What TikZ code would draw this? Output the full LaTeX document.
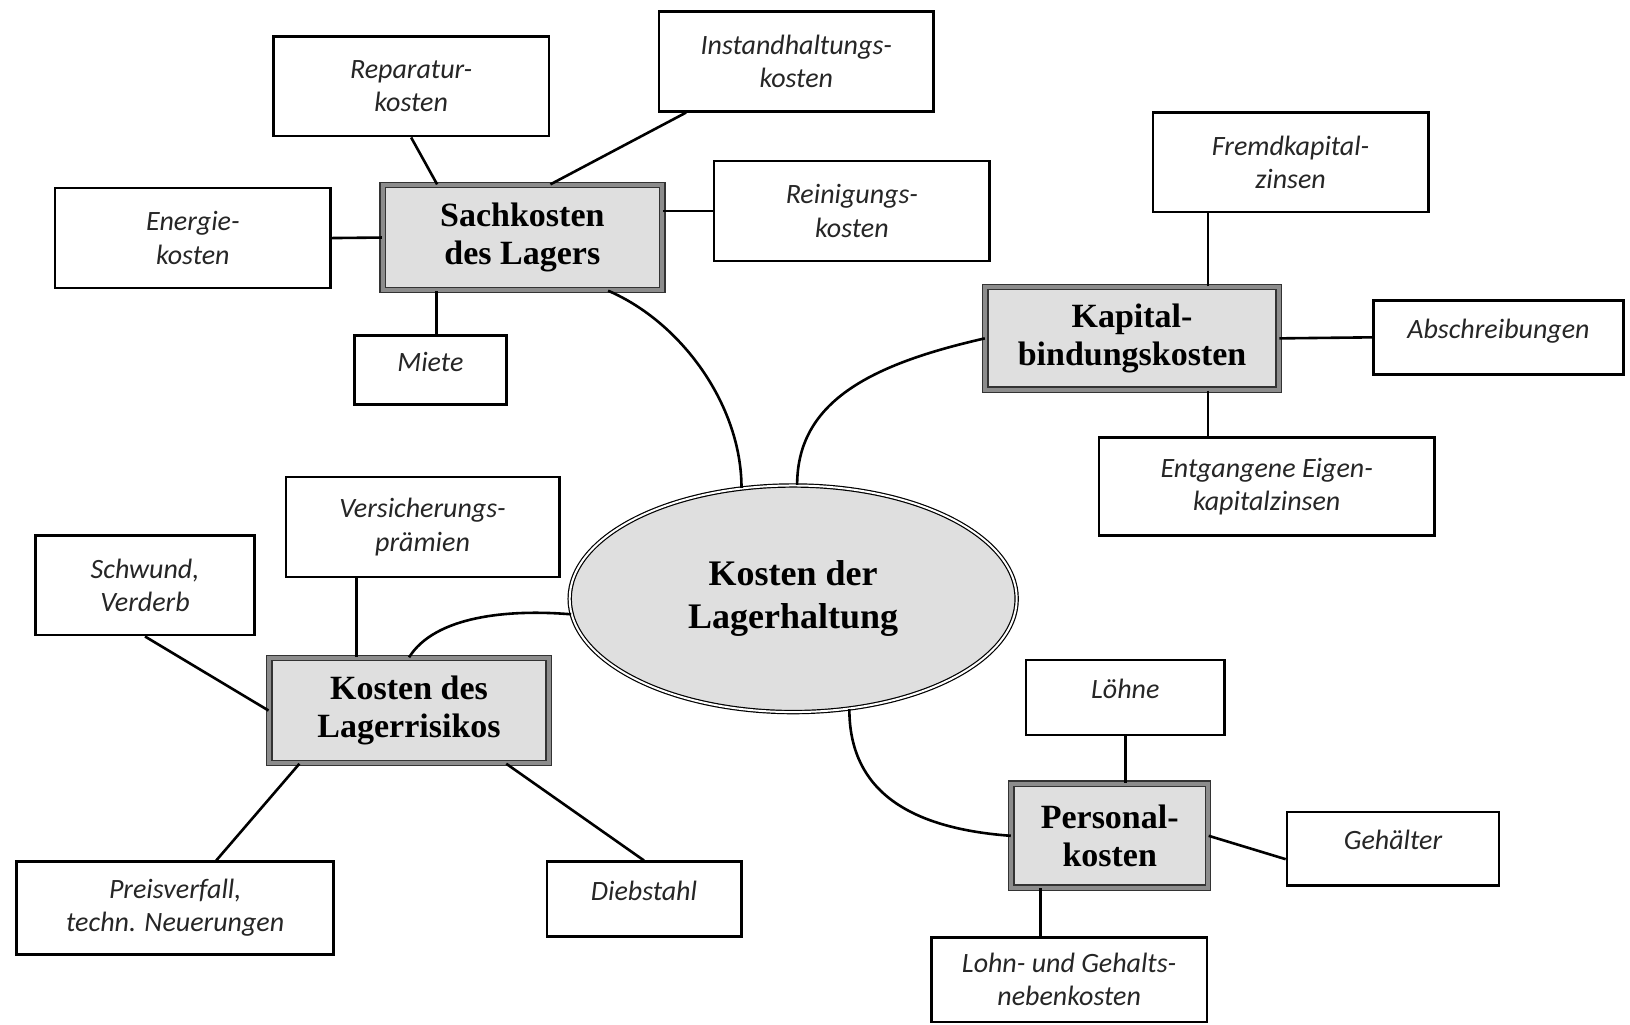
\documentclass[tikz,border=0pt]{standalone}
\usepackage{fontspec}
\setmainfont{Liberation Serif}
\setsansfont{Carlito}
\usetikzlibrary{shapes.geometric, calc}

\begin{document}
\begin{tikzpicture}[x=0.52pt,y=-0.52pt,
  gr/.style 2 args={minimum width=#1*0.52pt, minimum height=#2*0.52pt},
  blatt/.style={draw=black, line width=1.3pt, fill=white, align=center, inner sep=2pt,
    font=\sffamily\itshape\fontsize{14}{16.6}\selectfont, text=black!85},
  einzeilig/.style={text height=6pt, text depth=5pt},
  haupt/.style={draw=black!80, line width=0.7pt, double=black!45, double distance=2pt,
    fill=gray!25, align=center, inner sep=2pt, font=\bfseries\fontsize{17}{18.7}\selectfont},
  linie/.style={line width=1.3pt}]
\useasboundingbox (0,0) rectangle (1568,986);

% Mitte
\node[ellipse, draw=black, line width=0.6pt, double=white, double distance=1pt,
  fill=gray!25, gr={430}{218}, align=center,
  font=\bfseries\fontsize{18}{21.6}\selectfont] (kern) at (763,576) {Kosten der\\Lagerhaltung};

% Sachkosten
\node[haupt, gr={269}{101}] (sach) at (502.5,228.5) {Sachkosten\\des Lagers};
\node[blatt, gr={265}{96}] (rep) at (395.5,83) {Reparatur-\\kosten};
\node[blatt, gr={264}{96}] (inst) at (766,59) {Instandhaltungs-\\kosten};
\node[blatt, gr={265}{96}] (ener) at (185.5,229) {Energie-\\kosten};
\node[blatt, gr={265}{96}] (rein) at (819.5,203) {Reinigungs-\\kosten};
\node[blatt, einzeilig, gr={146}{66}] (miete) at (414,356) {Miete};

% Kapitalbindung
\node[haupt, gr={282}{99}] (kap) at (1089,325.5) {Kapital-\\bindungskosten};
\node[blatt, gr={265}{96}] (frem) at (1241.5,156) {Fremdkapital-\\zinsen};
\node[blatt, einzeilig, gr={241}{71}] (absch) at (1441.5,324.5) {Abschreibungen};
\node[blatt, gr={323}{94}] (entg) at (1218.5,468) {Entgangene Eigen-\\kapitalzinsen};

% Lagerrisiko
\node[haupt, gr={269}{101}] (risiko) at (393.5,683.5) {Kosten des\\Lagerrisikos};
\node[blatt, gr={263}{96}] (vers) at (406.5,507) {Versicherungs-\\prämien};
\node[blatt, gr={211}{96}] (schw) at (139.5,563) {Schwund,\\Verderb};
\node[blatt, gr={305}{89}] (preis) at (168.5,873.5) {Preisverfall,\\techn. Neuerungen};
\node[blatt, einzeilig, gr={187}{72}] (dieb) at (619.5,865) {Diebstahl};

% Personal
\node[haupt, gr={189}{100}] (pers) at (1067.5,804) {Personal-\\kosten};
\node[blatt, einzeilig, gr={191}{72}] (loehne) at (1082.5,671) {Löhne};
\node[blatt, einzeilig, gr={204}{71}] (geh) at (1340,816.5) {Gehälter};
\node[blatt, gr={265}{81}] (lohn) at (1028.5,942.5) {Lohn- und Gehalts-\\nebenkosten};

% Verbindungen
\draw[linie] (rep.south) -- ($(sach.north)+(-82,0)$);
\draw[linie] ($(inst.south)+(-106,0)$) -- ($(sach.north)+(27,0)$);
\draw[linie] (ener.east) -- (sach.west);
\draw[linie] (rein.west) -- (rein.west -| sach.east);
\draw[linie] ($(miete.north)+(6,0)$) -- ($(sach.south)+(-82.5,0)$);

\draw[linie] ($(kap.north)+(73,0)$) -- ($(frem.south)+(-79.5,0)$);
\draw[linie] (absch.west) -- (kap.east);
\draw[linie] ($(kap.south)+(73,0)$) -- ($(entg.north)+(-56.5,0)$);

\draw[linie] ($(vers.south)+(-63.5,0)$) -- ($(risiko.north)+(-50.5,0)$);
\draw[linie] (schw.south) -- (risiko.west);
\draw[linie] ($(risiko.south)+(-105.5,0)$) -- ($(preis.north)+(39.5,0)$);
\draw[linie] ($(risiko.south)+(93.5,0)$) -- (dieb.north);

\draw[linie] (loehne.south) -- (loehne.south |- pers.north);
\draw[linie] (pers.east) -- ($(geh.west)+(0,10)$);
\draw[linie] ($(pers.south)+(-66.5,0)$) -- ($(lohn.north)+(-27.5,0)$);

% Kurven zur Mitte
\draw[linie] ($(sach.south)+(82.5,0)$) .. controls +(70,30) and +(0,-80) .. (kern.115);
\draw[linie] (kern.88) .. controls +(0,-80) and +(-110,25) .. (kap.west);
\draw[linie] (kern.184) .. controls +(-60,-5) and +(25,-40) .. (risiko.north);
\draw[linie] (kern.-63) .. controls +(0,70) and +(-110,-8) .. (pers.west);
\end{tikzpicture}
\end{document}
